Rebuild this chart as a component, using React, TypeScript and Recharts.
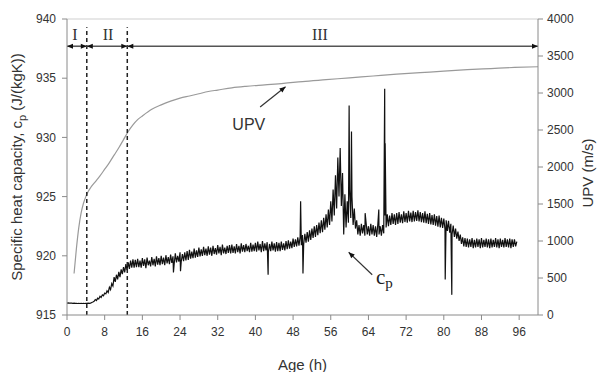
import React from "react";
import {
  LineChart,
  Line,
  XAxis,
  YAxis,
  ReferenceLine,
  ReferenceDot,
} from "recharts";

const cpValues = [
  916.0, 916.02, 916.0, 916.01, 916.0, 915.99, 916.0, 915.98, 915.99, 915.97, 915.98, 915.97, 915.99, 915.97, 915.98, 915.97, 915.99, 915.98, 916.0, 915.98,
  916.0, 916.06, 916.1, 916.16, 916.3, 916.22, 916.42, 916.36, 916.58, 916.48, 916.7, 916.62, 916.85, 916.78, 917.05, 916.9, 917.35, 917.15, 917.65, 917.45,
  918.2, 917.8, 918.4, 918.0, 918.65, 918.2, 918.85, 918.45, 919.05, 918.6, 919.3, 918.8, 919.45, 918.9, 919.6, 919.0, 919.7, 919.0, 919.65, 919.05,
  919.75, 919.05, 919.6, 919.0, 919.8, 919.15, 919.7, 918.95, 919.85, 919.2, 919.6, 919.1, 919.9, 919.2, 919.75, 919.1, 919.95, 919.25, 919.8, 919.2,
  920.0, 919.3, 919.85, 919.2, 920.05, 919.35, 919.9, 919.3, 920.1, 919.4, 919.95, 919.3, 920.2, 919.45, 920.0, 919.5, 920.3, 919.5, 920.15, 919.55,
  920.3, 919.6, 920.4, 919.65, 920.5, 919.75, 920.35, 919.8, 920.6, 919.85, 920.45, 919.9, 920.7, 919.95, 920.55, 920.0, 920.75, 920.05, 920.6, 920.0,
  920.8, 920.1, 920.7, 920.0, 920.85, 920.15, 920.65, 920.1, 920.9, 920.2, 920.75, 920.05, 920.95, 920.2, 920.7, 920.15, 920.85, 920.25, 920.9, 920.2,
  920.95, 920.25, 920.8, 920.2, 921.0, 920.3, 920.85, 920.2, 921.05, 920.35, 920.9, 920.3, 921.0, 920.4, 920.85, 920.3, 921.1, 920.35, 920.95, 920.4,
  921.1, 920.35, 921.2, 920.45, 921.0, 920.3, 921.25, 920.4, 921.05, 920.45, 921.15, 920.3, 921.0, 920.4, 921.2, 920.45, 921.05, 920.35, 921.15, 920.4,
  921.1, 920.4, 921.2, 920.5, 921.05, 920.45, 921.25, 920.55, 921.3, 920.6, 921.2, 920.65, 921.45, 920.75, 921.4, 920.8, 921.55, 920.85, 921.6, 920.9,
  921.75, 920.95, 921.85, 921.1, 922.0, 921.2, 922.15, 921.35, 922.3, 921.5, 922.5, 921.6, 922.6, 921.75, 922.8, 921.9, 923.0, 922.0, 923.2, 922.2,
  923.5, 922.4, 923.9, 922.6, 924.6, 922.9, 925.6, 923.4, 926.8, 924.0, 928.3, 925.0, 929.1, 924.2, 927.0, 921.8, 925.2, 922.4, 924.6, 922.8,
  925.6, 923.2, 925.0, 922.6, 924.0, 922.3, 923.0, 921.8, 922.6, 921.7, 922.7, 921.9, 922.6, 921.7, 922.8, 921.8, 922.5, 921.7, 922.7, 921.8,
  922.6, 921.7, 922.5, 921.6, 922.7, 921.8, 922.5, 921.7, 922.6, 921.9, 923.4, 922.4, 923.5, 922.5, 923.4, 922.6, 923.6, 922.7, 923.5, 922.6,
  923.6, 922.7, 923.7, 922.8, 923.5, 922.75, 923.75, 922.85, 923.6, 922.8, 923.8, 922.9, 923.65, 922.85, 923.8, 922.9, 923.7, 922.95, 923.85, 922.9,
  923.7, 922.85, 923.6, 922.8, 923.75, 922.75, 923.55, 922.7, 923.6, 922.65, 923.45, 922.6, 923.5, 922.55, 923.35, 922.45, 923.4, 922.4, 923.2, 922.35,
  923.15, 922.25, 923.0, 922.1, 922.95, 921.95, 922.7, 921.8, 922.55, 921.6, 922.3, 921.45, 922.05, 921.25, 921.8, 921.0, 921.55, 920.8, 921.5, 920.75,
  921.45, 920.7, 921.4, 920.75, 921.5, 920.65, 921.35, 920.7, 921.45, 920.75, 921.4, 920.65, 921.5, 920.7, 921.35, 920.75, 921.45, 920.7, 921.4, 920.65,
  921.45, 920.7, 921.35, 920.75, 921.5, 920.7, 921.4, 920.65, 921.45, 920.75, 921.35, 920.7, 921.5, 920.75, 921.4, 920.7, 921.45, 920.65, 921.4, 920.75,
  921.4, 920.8, 921.2,
];

// single spikes, [age, cp]
const cpSpikes: [number, number][] = [
  [22.6, 918.6], [24.1, 918.7], [42.7, 918.4], [49.6, 924.6], [50.1, 918.5],
  [59.9, 932.7], [60.4, 930.5], [63.3, 923.6], [66.2, 923.9],
  [67.45, 934.1], [67.55, 929.5], [80.3, 918.0], [81.7, 916.7],
];

const upvAges = [
  1.5, 2, 2.5, 3, 3.5, 4, 4.5, 5, 6, 7, 8, 9, 10, 11, 12, 13, 14, 15, 16, 18, 20,
  22, 24, 26, 28, 30, 32, 35, 38, 42, 46, 50, 55, 60, 65, 70, 75, 80, 85, 90, 95, 100,
];
const upvValues = [
  560, 900, 1180, 1380, 1510, 1600, 1670, 1720, 1800, 1880, 1970, 2060, 2160, 2260,
  2370, 2480, 2570, 2640, 2690, 2780, 2840, 2890, 2930, 2960, 2990, 3020, 3040, 3070,
  3090, 3110, 3130, 3155, 3180, 3205, 3230, 3255, 3275, 3295, 3315, 3330, 3345, 3355,
];

const ageTicks = [0, 8, 16, 24, 32, 40, 48, 56, 64, 72, 80, 88, 96];
const cpTicks = [915, 920, 925, 930, 935, 940];
const upvTicks = [0, 500, 1000, 1500, 2000, 2500, 3000, 3500, 4000];

const phaseBounds = [0, 4.2, 12.8, 100];
const phaseNames = ["I", "II", "III"];
const phaseLabelAges = [1.7, 8.7, 53.7];

const cpData = [
  ...cpValues.map((v, i) => ({ age: i * 0.25, cp: v })),
  ...cpSpikes.map(([age, cp]) => ({ age, cp })),
].sort((a, b) => a.age - b.age);

const upvData = upvAges.map((age, i) => ({ age, upv: upvValues[i] }));

const SANS = "'Liberation Sans', Arial, sans-serif";
const SERIF = "'Liberation Serif', 'Times New Roman', serif";
const AXIS = "#8a8a8a";
const TICK = { fontSize: 12, fill: "#333", fontFamily: SANS };

const arrowShape = (both: boolean, color: string, width: number) => (p: any) => {
  const { x1, y1, x2, y2 } = p;
  const len = Math.hypot(x2 - x1, y2 - y1) || 1;
  const ux = (x2 - x1) / len;
  const uy = (y2 - y1) / len;
  const head = (tx: number, ty: number, dx: number, dy: number) => {
    const s = 6;
    const w = 2.6;
    return `${tx},${ty} ${tx - dx * s - dy * w},${ty - dy * s + dx * w} ${tx - dx * s + dy * w},${ty - dy * s - dx * w}`;
  };
  return (
    <g>
      <line x1={x1} y1={y1} x2={x2} y2={y2} stroke={color} strokeWidth={width} />
      <polygon points={head(x2, y2, ux, uy)} fill="#111" />
      {both && <polygon points={head(x1, y1, -ux, -uy)} fill="#111" />}
    </g>
  );
};

const LeftTitle = ({ viewBox }: any) => {
  const cx = viewBox.x + 15;
  const cy = viewBox.y + viewBox.height / 2;
  return (
    <text
      transform={`translate(${cx},${cy}) rotate(-90)`}
      textAnchor="middle"
      fontFamily={SANS}
      fontSize={15}
      fill="#333"
    >
      Specific heat capacity, c
      <tspan fontSize={11} dy={4}>p</tspan>
      <tspan dy={-4}> (J/(kgK))</tspan>
    </text>
  );
};

const RightTitle = ({ viewBox }: any) => {
  const cx = viewBox.x + 55;
  const cy = viewBox.y + viewBox.height / 2 + 6;
  return (
    <text
      transform={`translate(${cx},${cy}) rotate(-90)`}
      textAnchor="middle"
      fontFamily={SANS}
      fontSize={15}
      fill="#333"
    >
      UPV (m/s)
    </text>
  );
};

const BottomTitle = ({ viewBox }: any) => (
  <text
    x={viewBox.x + viewBox.width / 2}
    y={viewBox.y + 55}
    textAnchor="middle"
    fontFamily={SANS}
    fontSize={15}
    fill="#333"
  >
    Age (h)
  </text>
);

export default function App() {
  return (
    <div style={{ position: "absolute", left: 0, top: 0, background: "#fff" }}>
      <LineChart width={603} height={372} margin={{ top: 19, right: 5, left: 7, bottom: 27 }}>
        <XAxis
          type="number"
          dataKey="age"
          domain={[0, 100]}
          ticks={ageTicks}
          allowDataOverflow
          stroke={AXIS}
          tick={TICK}
          tickSize={5}
          tickMargin={7}
          height={30}
          label={<BottomTitle />}
        />
        <YAxis
          yAxisId="left"
          domain={[915, 940]}
          ticks={cpTicks}
          allowDataOverflow
          stroke={AXIS}
          tick={TICK}
          tickSize={5}
          tickMargin={6}
          width={60}
          label={<LeftTitle />}
        />
        <YAxis
          yAxisId="right"
          orientation="right"
          domain={[0, 4000]}
          ticks={upvTicks}
          allowDataOverflow
          stroke={AXIS}
          tick={TICK}
          tickSize={5}
          tickMargin={4}
          width={60}
          label={<RightTitle />}
        />

        <ReferenceLine yAxisId="left" y={940} stroke="#cfcfcf" />

        <Line
          yAxisId="right"
          data={upvData}
          dataKey="upv"
          type="monotone"
          stroke="#9a9a9a"
          strokeWidth={1.2}
          dot={false}
          isAnimationActive={false}
        />
        <Line
          yAxisId="left"
          data={cpData}
          dataKey="cp"
          type="linear"
          stroke="#111"
          strokeWidth={1.2}
          dot={false}
          isAnimationActive={false}
        />

        {phaseBounds.slice(1, 3).map((b) => (
          <ReferenceLine
            key={`d${b}`}
            yAxisId="left"
            segment={[{ x: b, y: 915 }, { x: b, y: 939.3 }]}
            stroke="#222"
            strokeWidth={1.5}
            strokeDasharray="4 3"
          />
        ))}
        {phaseNames.map((n, i) => (
          <ReferenceLine
            key={`s${n}`}
            yAxisId="left"
            segment={[
              { x: phaseBounds[i], y: 937.7 },
              { x: phaseBounds[i + 1], y: 937.7 },
            ]}
            shape={arrowShape(true, "#555", 1.6)}
          />
        ))}
        {phaseNames.map((n, i) => (
          <ReferenceDot
            key={`l${n}`}
            yAxisId="left"
            x={phaseLabelAges[i]}
            y={938.75}
            r={0}
            shape={(p: any) => (
              <text
                x={p.cx}
                y={p.cy + 6}
                textAnchor="middle"
                fontFamily={SERIF}
                fontSize={16}
                fill="#333"
              >
                {n}
              </text>
            )}
          />
        ))}

        <ReferenceLine
          yAxisId="right"
          segment={[{ x: 41.0, y: 2811 }, { x: 46.4, y: 3085 }]}
          shape={arrowShape(false, "#333", 1.2)}
        />
        <ReferenceDot
          yAxisId="right"
          x={38.6}
          y={2500}
          r={0}
          shape={(p: any) => (
            <text x={p.cx} y={p.cy} textAnchor="middle" fontFamily={SANS} fontSize={16} fill="#333">
              UPV
            </text>
          )}
        />
        <ReferenceLine
          yAxisId="left"
          segment={[{ x: 64.8, y: 918.4 }, { x: 59.8, y: 920.3 }]}
          shape={arrowShape(false, "#333", 1.2)}
        />
        <ReferenceDot
          yAxisId="left"
          x={65.6}
          y={917.6}
          r={0}
          shape={(p: any) => (
            <text x={p.cx} y={p.cy} fontFamily={SERIF} fontSize={21} fill="#222">
              c<tspan fontSize={15} dy={4}>p</tspan>
            </text>
          )}
        />
      </LineChart>
    </div>
  );
}
